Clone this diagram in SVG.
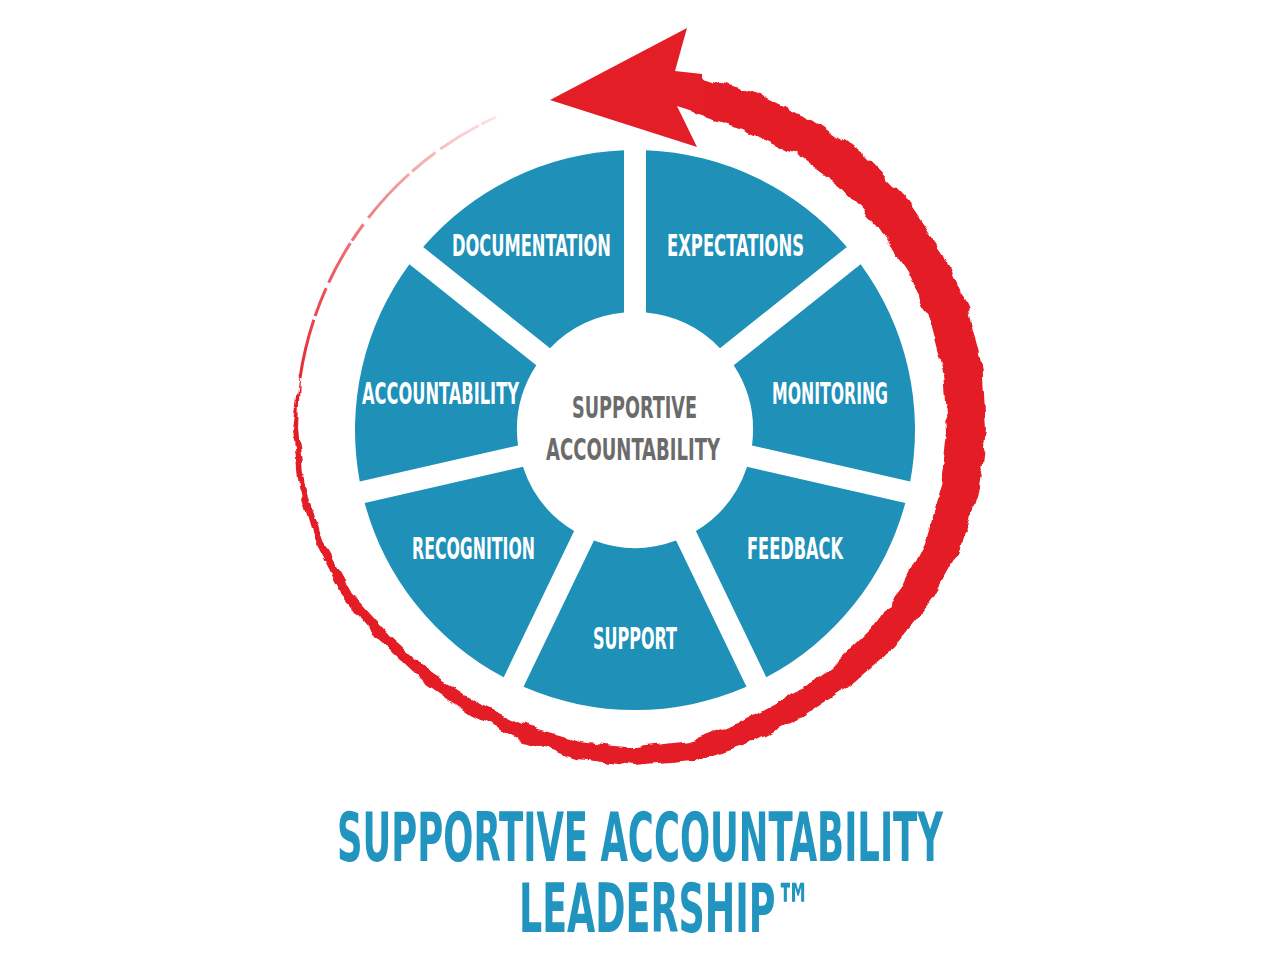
<svg xmlns="http://www.w3.org/2000/svg" width="1280" height="960" viewBox="0 0 1280 960">
  <style>
    .seg { fill: #1f91b8; }
    .lbl { font-family: 'Liberation Sans Narrow', 'DejaVu Sans Condensed', 'Liberation Sans', sans-serif; font-weight: 700; font-size: 31px; fill: #ffffff; }
    .ctr { font-family: 'Liberation Sans Narrow', 'DejaVu Sans Condensed', 'Liberation Sans', sans-serif; font-weight: 700; font-size: 31px; fill: #6b6b6b; }
    .ttl { font-family: 'Liberation Sans Narrow', 'DejaVu Sans Condensed', 'Liberation Sans', sans-serif; font-weight: 700; font-size: 68px; fill: #2194bf; }
    .red { fill: #e41e26; }
  </style>
  <defs>
    <filter id="brush" x="-5%" y="-5%" width="110%" height="110%">
      <feTurbulence type="fractalNoise" baseFrequency="0.05" numOctaves="3" seed="7" result="n"/>
      <feDisplacementMap in="SourceGraphic" in2="n" scale="9" xChannelSelector="R" yChannelSelector="G"/>
    </filter>
    <linearGradient id="tailGrad" gradientUnits="userSpaceOnUse" x1="300" y1="380" x2="495" y2="118">
      <stop offset="0" stop-color="#e41e26" stop-opacity="0.95"/>
      <stop offset="0.55" stop-color="#e41e26" stop-opacity="0.55"/>
      <stop offset="1" stop-color="#e41e26" stop-opacity="0.12"/>
    </linearGradient>
  </defs>
  <rect width="1280" height="960" fill="#ffffff"/>

  <g id="connectors">
    <path id="cycle-tail" d="M300,378 A341,341 0 0 1 496,117" fill="none" stroke="url(#tailGrad)" stroke-width="3" stroke-dasharray="60 4 30 6 45 3 20 8"/>
    <path id="cycle-band" class="red" filter="url(#brush)" d="M300.2,371 L293,430 L299.2,489.2 L316.4,545.9 L344,598 L381.5,642.8 L423.5,682 L470.5,714.9 L521.8,741 L577,758.9 L635,766 L693.3,760.9 L748.9,742.9 L801,717.5 L849.7,685.8 L893.9,647.3 L931.2,601 L960.1,548.3 L978.7,490.6 L986,430 L982.6,368.7 L967.7,308.9 L942.4,252.5 L907.7,201.2 L864.5,156.5 L813.5,120.8 L757.1,94.5 L709.4,79.8 L677,70 L673,104 L701.7,116 L744.4,129.3 L794.5,153.7 L839.4,186.4 L877.1,226.9 L907.8,272.5 L930.1,322.6 L944.2,375.5 L948,430 L942.3,484.2 L927.2,536.4 L903.5,585 L871.7,628.6 L833,665.9 L789,696.7 L741.4,722.2 L689.9,741.2 L635,747 L580.1,741.2 L527.3,726 L477.5,702.8 L431.2,672.8 L389.9,635.7 L351.8,593.5 L324,543.2 L305.1,488.2 L298,430 Z"/>
    <polygon id="cycle-head" class="red" points="550,100 687,28 675,71 702,74 702,114 677,106 697,147"/>
  </g>

  <g id="node-expectations">
    <path class="seg" d="M646,150.22 A280,280 0 0 1 846.88,246.96 L720,348.15 A118,118 0 0 0 646,312.51 Z"/>
    <text class="lbl" transform="translate(667,256) scale(0.58,1)" x="0" y="0" textLength="236.2" lengthAdjust="spacingAndGlyphs">EXPECTATIONS</text>
  </g>
  <g id="node-monitoring">
    <path class="seg" d="M860.6,264.16 A280,280 0 0 1 910.22,481.54 L752,445.42 A118,118 0 0 0 733.72,365.35 Z"/>
    <text class="lbl" transform="translate(772,404) scale(0.58,1)" x="0" y="0" textLength="200" lengthAdjust="spacingAndGlyphs">MONITORING</text>
  </g>
  <g id="node-feedback">
    <path class="seg" d="M905.32,502.98 A280,280 0 0 1 766.3,677.3 L695.89,531.08 A118,118 0 0 0 747.1,466.86 Z"/>
    <text class="lbl" transform="translate(747,559) scale(0.58,1)" x="0" y="0" textLength="165.5" lengthAdjust="spacingAndGlyphs">FEEDBACK</text>
  </g>
  <g id="node-support">
    <path class="seg" d="M746.48,686.84 A280,280 0 0 1 523.52,686.84 L593.93,540.62 A118,118 0 0 0 676.07,540.62 Z"/>
    <text class="lbl" transform="translate(593,649) scale(0.58,1)" x="0" y="0" textLength="144.8" lengthAdjust="spacingAndGlyphs">SUPPORT</text>
  </g>
  <g id="node-recognition">
    <path class="seg" d="M503.7,677.3 A280,280 0 0 1 364.68,502.98 L522.9,466.86 A118,118 0 0 0 574.11,531.08 Z"/>
    <text class="lbl" transform="translate(412,559) scale(0.58,1)" x="0" y="0" textLength="212.1" lengthAdjust="spacingAndGlyphs">RECOGNITION</text>
  </g>
  <g id="node-accountability">
    <path class="seg" d="M359.78,481.54 A280,280 0 0 1 409.4,264.16 L536.28,365.35 A118,118 0 0 0 518,445.42 Z"/>
    <text class="lbl" transform="translate(362,404) scale(0.58,1)" x="0" y="0" textLength="270.7" lengthAdjust="spacingAndGlyphs">ACCOUNTABILITY</text>
  </g>
  <g id="node-documentation">
    <path class="seg" d="M423.12,246.96 A280,280 0 0 1 624,150.22 L624,312.51 A118,118 0 0 0 550,348.15 Z"/>
    <text class="lbl" transform="translate(452,256) scale(0.58,1)" x="0" y="0" textLength="274.1" lengthAdjust="spacingAndGlyphs">DOCUMENTATION</text>
  </g>
  <g id="node-center">
    <circle cx="635" cy="430" r="106" fill="#ffffff"/>
    <text class="ctr" transform="translate(572,418) scale(0.58,1)" x="0" y="0" textLength="215.5" lengthAdjust="spacingAndGlyphs">SUPPORTIVE</text>
    <text class="ctr" transform="translate(546,460) scale(0.58,1)" x="0" y="0" textLength="300" lengthAdjust="spacingAndGlyphs">ACCOUNTABILITY</text>
  </g>

  <g id="title">
    <text class="ttl" transform="translate(337,861) scale(0.58,1)"><tspan x="0" y="0" textLength="1044.8" lengthAdjust="spacingAndGlyphs">SUPPORTIVE ACCOUNTABILITY</tspan><tspan x="313.8" y="71" textLength="505.2" lengthAdjust="spacingAndGlyphs">LEADERSHIP™</tspan></text>
  </g>
</svg>
